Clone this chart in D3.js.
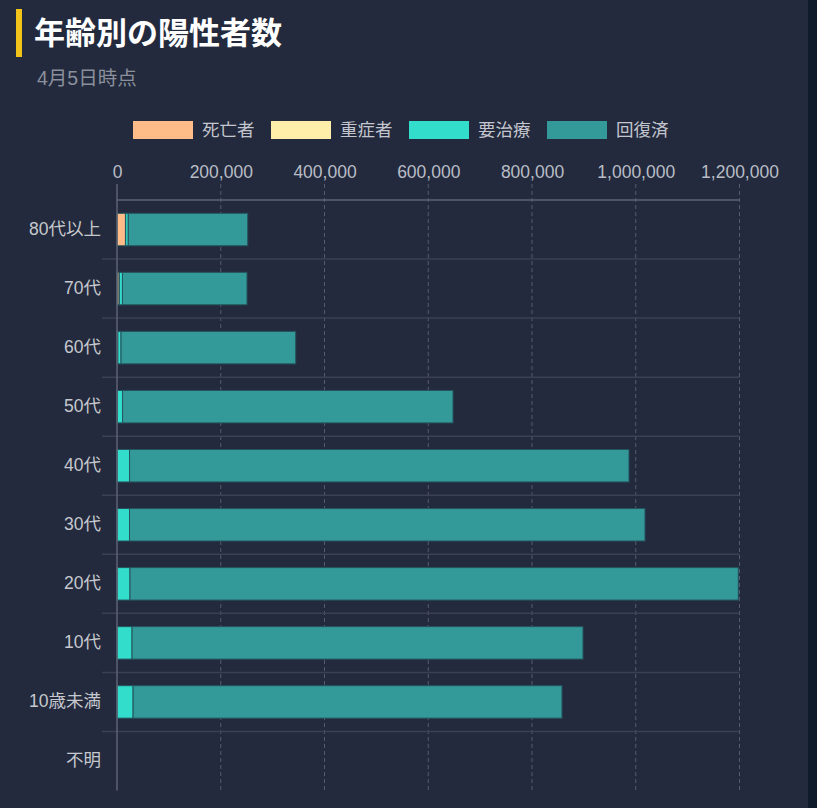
<!DOCTYPE html>
<html lang="ja">
<head>
<meta charset="utf-8">
<script src="https://cdn.jsdelivr.net/npm/d3@7"></script>
<style>
  html, body { margin: 0; padding: 0; background: #0f1b2b; }
  #chart { display: block; }
</style>
</head>
<body>
<svg id="chart" width="817" height="808"></svg>
<script>
'use strict';

/* ── Data ─────────────────────────────────────────────────── */
const ageGroups  = ['80代以上', '70代', '60代', '50代', '40代', '30代', '20代', '10代', '10歳未満', '不明'];
const seriesKeys = ['死亡者', '重症者', '要治療', '回復済'];
const deaths     = [16300, 4200, 1500, 600, 200, 80, 30, 5, 5, 0];
const severe     = [400, 300, 250, 150, 60, 20, 5, 1, 1, 0];
const treatment  = [5000, 6000, 6000, 10000, 24000, 24000, 25000, 29000, 31000, 0];
const recovered  = [230300, 240100, 336750, 637000, 962740, 993700, 1172665, 869294, 826794, 0];
const xTicks     = [0, 200000, 400000, 600000, 800000, 1000000, 1200000];

const COLORS = ['#ffbb88', '#ffeeaa', '#33ddcc', '#339999'];

/* ── Setup ────────────────────────────────────────────────── */
const W = 817, H = 808;
const svg = d3.select('#chart');
const FONT = '"Liberation Sans", "Noto Sans CJK JP", sans-serif';

svg.append('rect').attr('width', 808).attr('height', H).attr('fill', '#232a3d');

/* ── Title ── */
svg.append('rect')
  .attr('x', 16).attr('y', 9).attr('width', 6).attr('height', 48)
  .attr('fill', '#f2c318');
svg.append('text')
  .attr('x', 34).attr('y', 44)
  .attr('font-family', FONT).attr('font-size', 31).attr('font-weight', 'bold')
  .attr('fill', '#ffffff')
  .text('年齢別の陽性者数');
svg.append('text')
  .attr('x', 37).attr('y', 85)
  .attr('font-family', FONT).attr('font-size', 19.5)
  .attr('fill', '#8a909c')
  .text('4月5日時点');

/* ── Legend ── */
const legendX = [133, 271, 409, 547];
seriesKeys.forEach((k, i) => {
  svg.append('rect')
    .attr('x', legendX[i]).attr('y', 121).attr('width', 60).attr('height', 18)
    .attr('fill', COLORS[i]);
  svg.append('text')
    .attr('x', legendX[i] + 69).attr('y', 136)
    .attr('font-family', FONT).attr('font-size', 17.5)
    .attr('fill', '#c3c6ce')
    .text(k);
});

/* ── Scales ── */
const PAD_L = 117, PAD_R = 739.5, PAD_T = 200, PAD_B = 790.5;
const x = d3.scaleLinear().domain([0, 1200000]).range([PAD_L, PAD_R]);
const y = d3.scaleBand().domain(ageGroups).range([PAD_T, PAD_B]).paddingInner(0.45).paddingOuter(0.225);
const band = (PAD_B - PAD_T) / ageGroups.length;

/* ── Grid (dashed vertical) ── */
svg.append('g')
  .selectAll('line')
  .data(xTicks.slice(1))
  .join('line')
  .attr('x1', d => x(d)).attr('x2', d => x(d))
  .attr('y1', 184).attr('y2', PAD_B)
  .attr('stroke', '#555b6e').attr('stroke-width', 1)
  .attr('stroke-dasharray', '4 3');

/* ── Category separators ── */
svg.append('g')
  .selectAll('line')
  .data(d3.range(1, ageGroups.length))
  .join('line')
  .attr('x1', 102).attr('x2', PAD_R)
  .attr('y1', i => PAD_T + i * band).attr('y2', i => PAD_T + i * band)
  .attr('stroke', '#3b4153').attr('stroke-width', 1.5);

/* ── Top axis ── */
const xAxis = d3.axisTop(x)
  .tickValues(xTicks)
  .tickFormat(d3.format(','))
  .tickSize(0)
  .tickPadding(22);
const axG = svg.append('g')
  .attr('transform', `translate(0,${PAD_T})`)
  .call(xAxis);
axG.select('.domain').remove();
axG.selectAll('.tick text')
  .attr('font-family', FONT).attr('font-size', 17.5).attr('fill', '#b9bdc6');

svg.append('line')
  .attr('x1', PAD_L).attr('x2', PAD_R).attr('y1', PAD_T).attr('y2', PAD_T)
  .attr('stroke', '#5e6373').attr('stroke-width', 1.5);

/* ── Stacked bars ── */
const rows = ageGroups.map((g, i) => ({
  group: g,
  '死亡者': deaths[i], '重症者': severe[i], '要治療': treatment[i], '回復済': recovered[i]
}));
const stacked = d3.stack().keys(seriesKeys)(rows);

stacked.forEach((layer, si) => {
  svg.append('g')
    .selectAll('rect')
    .data(layer.filter(d => d[1] > d[0]))
    .join('rect')
    .attr('x', d => x(d[0]))
    .attr('y', d => y(d.data.group))
    .attr('width', d => Math.max(0, x(d[1]) - x(d[0])))
    .attr('height', y.bandwidth())
    .attr('fill', COLORS[si])
    .attr('stroke', '#25535d').attr('stroke-width', 1);
});

/* ── Left axis (category labels) ── */
ageGroups.forEach(g => {
  svg.append('text')
    .attr('x', 101).attr('y', y(g) + y.bandwidth() / 2 - 1)
    .attr('dy', '0.35em')
    .attr('text-anchor', 'end')
    .attr('font-family', FONT).attr('font-size', 17.5)
    .attr('fill', '#c6c8ce')
    .text(g);
});

/* ── Vertical axis line ── */
svg.append('line')
  .attr('x1', PAD_L).attr('x2', PAD_L).attr('y1', 184).attr('y2', PAD_B)
  .attr('stroke', '#5e6373').attr('stroke-width', 1.5);
</script>
</body>
</html>
